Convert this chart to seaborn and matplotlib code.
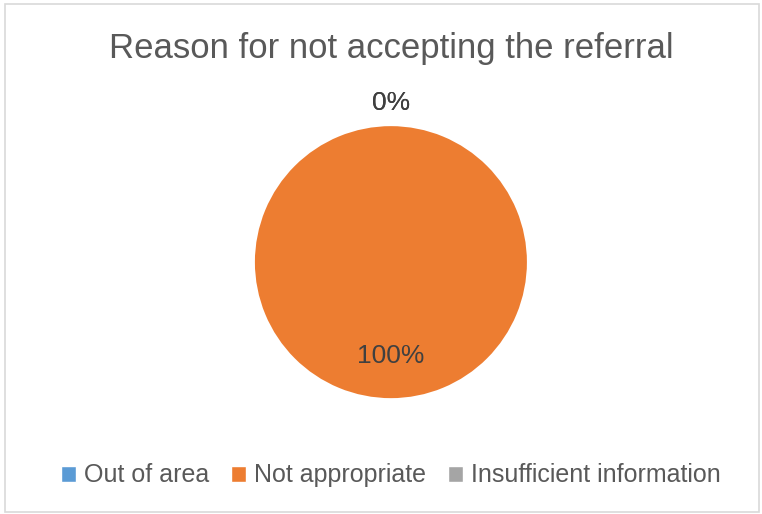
import matplotlib
matplotlib.use('Agg')
import matplotlib.pyplot as plt
import seaborn as sns
import numpy as np
from matplotlib.patches import Rectangle

sns.set_theme(style='white')
plt.rcParams['font.family'] = ['Liberation Sans Narrow', 'Liberation Sans', 'DejaVu Sans']

reasons = ['Out of area', 'Not appropriate', 'Insufficient information']
counts = [0, 100, 0]
colors = ['#5B9BD5', '#ED7D31', '#A5A5A5']

fig = plt.figure(figsize=(7.62, 5.14), dpi=100)
fig.patch.set_facecolor('white')
fig.patches.append(Rectangle((0.006, 0.004), 0.99, 0.988, transform=fig.transFigure,
                             fill=False, edgecolor='#D9D9D9', linewidth=1.2))

ax = fig.add_axes([0.513 - 0.1785, 0.490 - 0.2646, 0.357, 0.5292])
wedges, _ = ax.pie(counts, colors=colors, startangle=90, counterclock=False,
                   wedgeprops={'linewidth': 0})
ax.set_xlim(-1, 1)
ax.set_ylim(-1, 1)
ax.set_aspect('equal')

total = sum(counts)
for w, c in zip(wedges, counts):
    mid = np.deg2rad((w.theta1 + w.theta2) / 2)
    r = 0.69 if c > 0 else 1.17
    ax.text(r * np.cos(mid), r * np.sin(mid), f'{c / total:.0%}', ha='center', va='center',
            fontsize=19, color='#404040', clip_on=False)

fig.text(0.513, 0.905, 'Reason for not accepting the referral', ha='center', va='center',
         fontsize=25, color='#595959')

handles = [Rectangle((0, 0), 1, 1, facecolor=c) for c in colors]
fig.legend(handles, reasons, loc='center', bbox_to_anchor=(0.513, 0.075), ncol=3, frameon=False,
           fontsize=18, labelcolor='#595959', handlelength=0.6, handleheight=0.6,
           handletextpad=0.3, columnspacing=0.9)

fig.savefig('out.png', dpi=100)
